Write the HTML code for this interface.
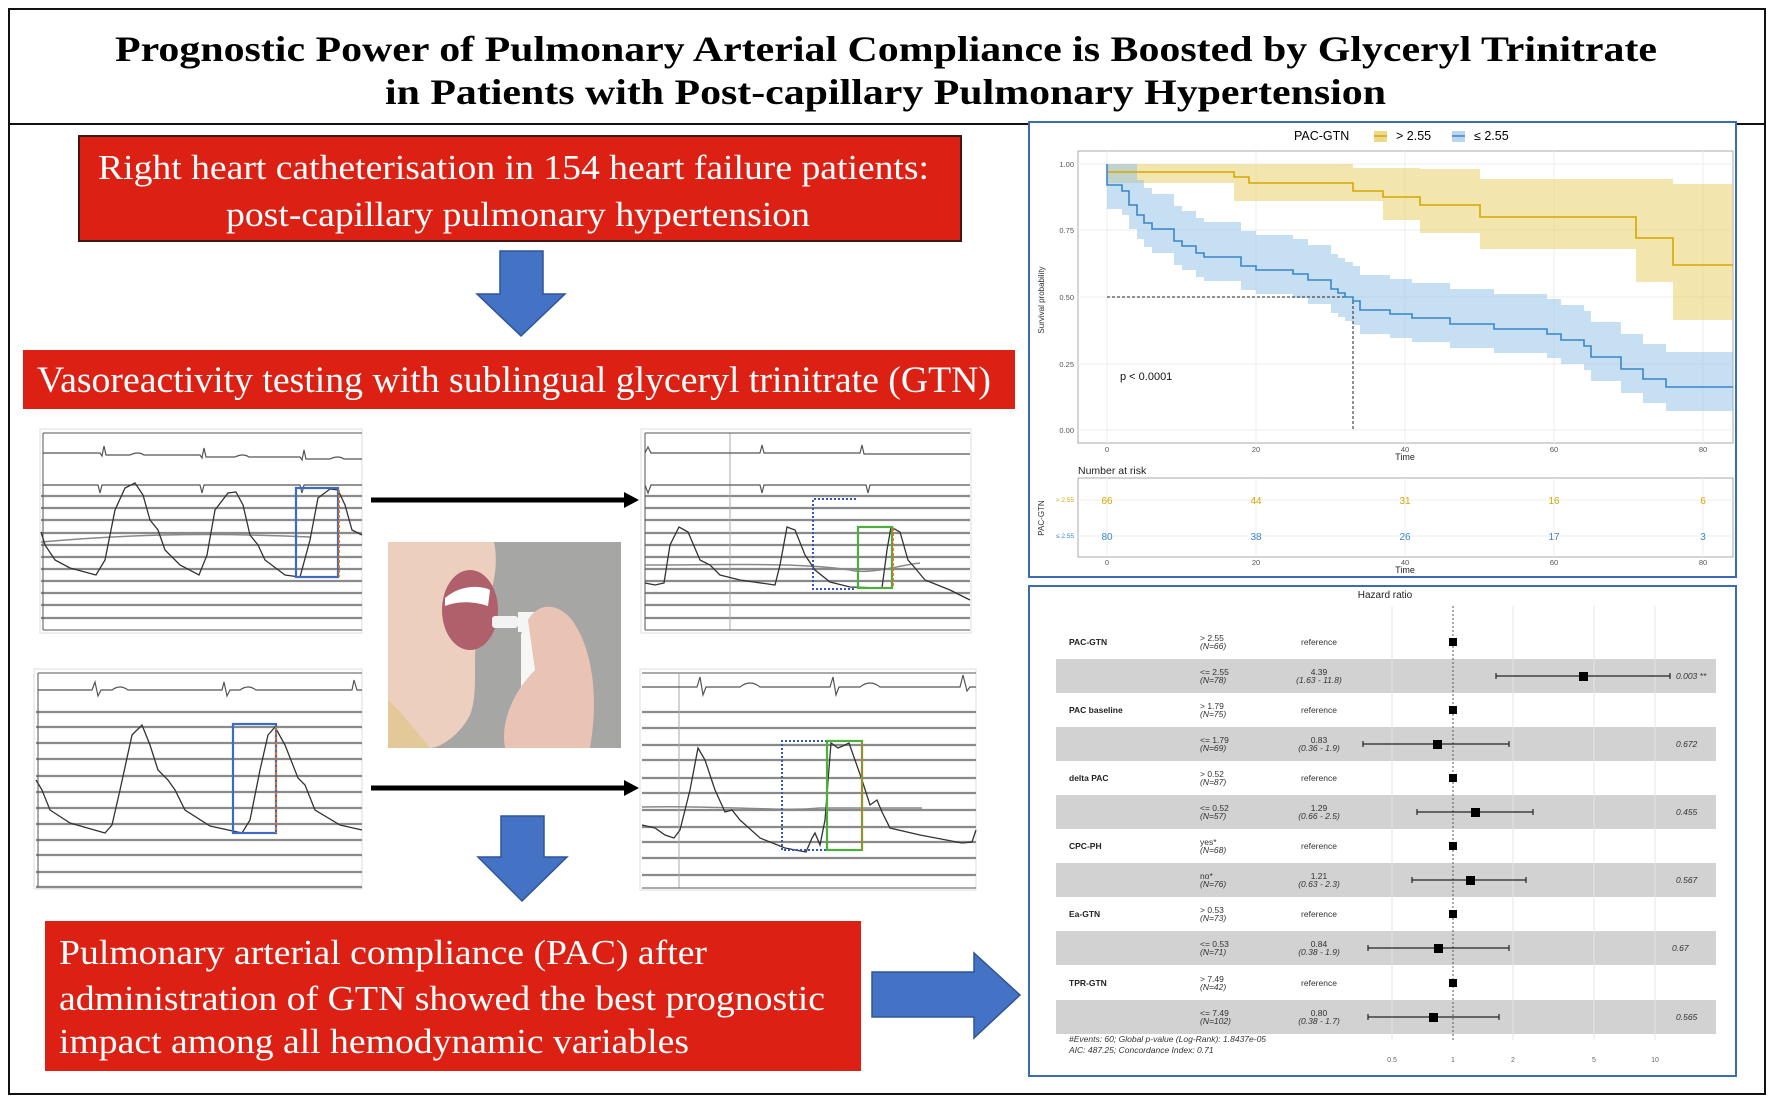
<!DOCTYPE html>
<html><head><meta charset="utf-8"><style>
html,body{margin:0;padding:0;background:#fff;}
svg{display:block;}
.t{font-family:"Liberation Serif",serif;}
.s{font-family:"Liberation Sans",sans-serif;}
</style></head><body>
<svg width="1772" height="1101" viewBox="0 0 1772 1101" xmlns="http://www.w3.org/2000/svg">
<rect x="9" y="9" width="1756" height="1085" fill="#fff" stroke="#111" stroke-width="2"/>
<line x1="9" y1="124" x2="1765" y2="124" stroke="#111" stroke-width="2"/>
<text class="t" x="115" y="61" font-size="36" font-weight="bold" textLength="1542" lengthAdjust="spacingAndGlyphs">Prognostic Power of Pulmonary Arterial Compliance is Boosted by Glyceryl Trinitrate</text>
<text class="t" x="385" y="104" font-size="36" font-weight="bold" textLength="1001" lengthAdjust="spacingAndGlyphs">in Patients with Post-capillary Pulmonary Hypertension</text>

<!-- red boxes -->
<rect x="79" y="136" width="882" height="105" fill="#dc2114" stroke="#3a1a14" stroke-width="2"/>
<text class="t" x="98" y="179" font-size="35" fill="#fff" textLength="831" lengthAdjust="spacingAndGlyphs">Right heart catheterisation in 154 heart failure patients:</text>
<text class="t" x="226" y="226" font-size="35" fill="#fff" textLength="584" lengthAdjust="spacingAndGlyphs">post-capillary pulmonary hypertension</text>
<rect x="23" y="350" width="992" height="59" fill="#dc2114"/>
<text class="t" x="37" y="392" font-size="37" fill="#fff" textLength="954" lengthAdjust="spacingAndGlyphs">Vasoreactivity testing with sublingual glyceryl trinitrate (GTN)</text>
<rect x="45" y="921" width="816" height="150" fill="#dc2114"/>
<text class="t" x="59" y="964" font-size="35" fill="#fff" textLength="648" lengthAdjust="spacingAndGlyphs">Pulmonary arterial compliance (PAC) after</text>
<text class="t" x="59" y="1010" font-size="35" fill="#fff" textLength="766" lengthAdjust="spacingAndGlyphs">administration of GTN showed the best prognostic</text>
<text class="t" x="59" y="1053" font-size="35" fill="#fff" textLength="630" lengthAdjust="spacingAndGlyphs">impact among all hemodynamic variables</text>

<!-- blue arrows -->
<polygon points="500,251 543,251 543,294 565,294 521,336 477,294 500,294" fill="#4472c4" stroke="#2f5597" stroke-width="1.5"/>
<polygon points="501,816 544,816 544,857 567,857 522,901 478,857 501,857" fill="#4472c4" stroke="#2f5597" stroke-width="1.5"/>
<polygon points="872,972 974,972 974,953 1020,995 974,1038 974,1017 872,1017" fill="#4472c4" stroke="#2f5597" stroke-width="1.5"/>

<!-- black arrows -->
<line x1="371" y1="500" x2="626" y2="500" stroke="#000" stroke-width="5"/>
<polygon points="624,492 639,500 624,508" fill="#000"/>
<line x1="371" y1="788" x2="626" y2="788" stroke="#000" stroke-width="5"/>
<polygon points="624,780 639,788 624,796" fill="#000"/>

<!-- TL panel -->
<g>
<rect x="40" y="429" width="322" height="204" fill="#fff" stroke="#ddd"/>
<g stroke="#8a8a8a" stroke-width="2.2">
<line x1="41" y1="496" x2="362" y2="496"/><line x1="41" y1="508" x2="362" y2="508"/><line x1="41" y1="520" x2="362" y2="520"/><line x1="41" y1="533" x2="362" y2="533"/><line x1="41" y1="545" x2="362" y2="545"/><line x1="41" y1="557" x2="362" y2="557"/><line x1="41" y1="569" x2="362" y2="569"/><line x1="41" y1="581" x2="362" y2="581"/><line x1="41" y1="593" x2="362" y2="593"/><line x1="41" y1="605" x2="362" y2="605"/><line x1="41" y1="618" x2="362" y2="618"/>
</g>
<line x1="43" y1="433" x2="43" y2="630" stroke="#555"/>
<line x1="43" y1="433" x2="362" y2="433" stroke="#555"/><line x1="43" y1="630" x2="362" y2="630" stroke="#555"/>
<path d="M43,453 H100 l2,3 l2,-10 l2,9 H130 q8,-4 14,0 H200 l2,3 l2,-10 l2,9 H235 q8,-4 14,0 H300 l2,3 l2,-10 l2,9 H330 q8,-4 14,0 H362" fill="none" stroke="#555" stroke-width="1.2"/>
<path d="M43,485 H98 l2,8 l2,-8 H200 l2,8 l2,-8 H300 l2,8 l2,-8 H362" fill="none" stroke="#555" stroke-width="1.2"/>
<path d="M41,542 C120,535 200,532 310,537" fill="none" stroke="#888" stroke-width="1.5"/>
<path d="M41,532 L45,545 L55,560 L70,568 L96,575 L105,560 L115,510 L125,488 L135,483 L143,495 L150,520 L158,530 L165,550 L180,565 L199,575 L207,555 L215,510 L228,493 L236,492 L243,505 L250,535 L258,545 L265,560 L285,575 L300,577 L310,540 L318,498 L330,489 L338,490 L345,505 L352,530 L362,535" fill="none" stroke="#333" stroke-width="1.3"/>
<rect x="296" y="488" width="42" height="89" fill="none" stroke="#3a6cc4" stroke-width="2.2"/>
<line x1="339" y1="490" x2="339" y2="577" stroke="#e07020" stroke-width="1.8" stroke-dasharray="3,2"/>
</g>

<!-- TR panel -->
<g>
<rect x="641" y="429" width="330" height="204" fill="#fff" stroke="#ddd"/>
<g stroke="#8a8a8a" stroke-width="2.2">
<line x1="645" y1="496" x2="970" y2="496"/><line x1="645" y1="508" x2="970" y2="508"/><line x1="645" y1="520" x2="970" y2="520"/><line x1="645" y1="533" x2="970" y2="533"/><line x1="645" y1="545" x2="970" y2="545"/><line x1="645" y1="557" x2="970" y2="557"/><line x1="645" y1="569" x2="970" y2="569"/><line x1="645" y1="581" x2="970" y2="581"/><line x1="645" y1="593" x2="970" y2="593"/><line x1="645" y1="605" x2="970" y2="605"/><line x1="645" y1="618" x2="970" y2="618"/>
</g>
<line x1="645" y1="433" x2="645" y2="630" stroke="#555"/><line x1="730" y1="433" x2="730" y2="630" stroke="#aaa"/>
<line x1="645" y1="433" x2="970" y2="433" stroke="#555"/><line x1="645" y1="630" x2="970" y2="630" stroke="#555"/>
<path d="M645,453 l3,-6 l3,6 H760 l2,-8 l2,8 H860 l2,-8 l2,9 H970" fill="none" stroke="#555" stroke-width="1.2"/>
<path d="M645,485 l3,8 l3,-8 H760 l2,8 l2,-8 H866 l2,8 l2,-8 H970" fill="none" stroke="#555" stroke-width="1.2"/>
<path d="M645,565 C720,565 800,562 850,570 C870,575 900,565 920,563" fill="none" stroke="#888" stroke-width="1.5"/>
<path d="M645,583 L655,585 L664,583 L670,545 L679,527 L688,532 L700,560 L710,565 L720,575 L740,580 L775,585 L780,565 L787,527 L795,530 L805,555 L815,570 L830,582 L850,587 L882,588 L887,550 L891,527 L900,532 L908,560 L915,568 L925,580 L950,590 L970,600" fill="none" stroke="#333" stroke-width="1.3"/>
<path d="M856,499 H813 V589 H856" fill="none" stroke="#2f58c4" stroke-width="2" stroke-dasharray="2,2"/>
<rect x="858" y="527" width="34" height="61" fill="none" stroke="#4caf3a" stroke-width="2.2"/>
<line x1="893" y1="528" x2="893" y2="588" stroke="#e07020" stroke-width="1.8" stroke-dasharray="3,2"/>
</g>

<!-- BL panel -->
<g>
<rect x="34" y="669" width="328" height="220" fill="#fff" stroke="#ddd"/>
<g stroke="#8a8a8a" stroke-width="2.2">
<line x1="36" y1="712" x2="362" y2="712"/><line x1="36" y1="727" x2="362" y2="727"/><line x1="36" y1="743" x2="362" y2="743"/><line x1="36" y1="759" x2="362" y2="759"/><line x1="36" y1="776" x2="362" y2="776"/><line x1="36" y1="792" x2="362" y2="792"/><line x1="36" y1="808" x2="362" y2="808"/><line x1="36" y1="824" x2="362" y2="824"/><line x1="36" y1="840" x2="362" y2="840"/><line x1="36" y1="855" x2="362" y2="855"/><line x1="36" y1="872" x2="362" y2="872"/><line x1="36" y1="887" x2="362" y2="887"/>
</g>
<line x1="38" y1="673" x2="38" y2="887" stroke="#555"/><line x1="38" y1="673" x2="362" y2="673" stroke="#555"/>
<path d="M38,690 H92 l3,-8 l3,14 l3,-6 H112 q8,-6 16,0 H222 l2,-8 l3,14 l3,-6 H240 q8,-6 16,0 H352 l2,-10 l3,10 H362" fill="none" stroke="#555" stroke-width="1.2"/>
<path d="M36,780 L42,790 L50,810 L70,823 L105,833 L112,825 L120,790 L132,735 L142,725 L150,745 L158,770 L168,780 L175,790 L185,810 L210,826 L242,833 L250,820 L260,770 L268,735 L275,727 L285,745 L298,778 L305,785 L315,810 L340,825 L362,830" fill="none" stroke="#333" stroke-width="1.3"/>
<rect x="233" y="724" width="43" height="109" fill="none" stroke="#3a6cc4" stroke-width="2.2"/>
<line x1="276" y1="727" x2="276" y2="833" stroke="#e07020" stroke-width="1.8" stroke-dasharray="3,2"/>
</g>

<!-- BR panel -->
<g>
<rect x="640" y="669" width="336" height="221" fill="#fff" stroke="#ddd"/>
<g stroke="#8a8a8a" stroke-width="2.2">
<line x1="642" y1="712" x2="976" y2="712"/><line x1="642" y1="728" x2="976" y2="728"/><line x1="642" y1="745" x2="976" y2="745"/><line x1="642" y1="760" x2="976" y2="760"/><line x1="642" y1="778" x2="976" y2="778"/><line x1="642" y1="793" x2="976" y2="793"/><line x1="642" y1="810" x2="976" y2="810"/><line x1="642" y1="827" x2="976" y2="827"/><line x1="642" y1="842" x2="976" y2="842"/><line x1="642" y1="858" x2="976" y2="858"/><line x1="642" y1="875" x2="976" y2="875"/>
</g>
<line x1="642" y1="673" x2="976" y2="673" stroke="#555"/><line x1="679" y1="673" x2="679" y2="888" stroke="#aaa"/><line x1="642" y1="888" x2="976" y2="888" stroke="#555"/>
<path d="M642,687 H697 l3,-10 l3,18 l3,-8 H740 q10,-8 20,0 H830 l3,-10 l3,18 l3,-8 H860 q10,-8 20,0 H960 l3,-12 l4,16 l3,-4 H976" fill="none" stroke="#555" stroke-width="1.2"/>
<path d="M642,807 C720,805 780,812 820,808 L922,808" fill="none" stroke="#888" stroke-width="1.5"/>
<path d="M642,825 L655,828 L665,835 L674,838 L680,830 L690,790 L698,748 L705,760 L715,790 L725,812 L732,810 L740,820 L760,838 L785,848 L806,852 L812,838 L815,833 L820,845 L825,820 L831,743 L838,748 L845,745 L849,743 L855,760 L862,780 L870,805 L877,800 L882,812 L890,828 L920,835 L962,843 L972,842 L976,830" fill="none" stroke="#333" stroke-width="1.3"/>
<path d="M827,741 H782 V850 H827" fill="none" stroke="#2f58c4" stroke-width="2" stroke-dasharray="2,2"/>
<rect x="827" y="741" width="35" height="109" fill="none" stroke="#4caf3a" stroke-width="2.2"/>
<line x1="862" y1="743" x2="862" y2="850" stroke="#e07020" stroke-width="1.8" stroke-dasharray="3,2"/>
</g>

<!-- Photo -->
<g>
<rect x="388" y="542" width="233" height="206" fill="#a6a6a4"/>
<path d="M388,542 H494 C500,570 490,600 480,620 C470,650 480,690 470,715 C460,735 440,748 430,748 H388 Z" fill="#edcfc0"/>
<path d="M388,700 C400,710 415,730 430,748 H388 Z" fill="#e3c89a"/>
<ellipse cx="470" cy="610" rx="28" ry="40" fill="#b0606a"/>
<path d="M445,598 C460,585 480,585 490,590 L488,606 C470,600 455,602 445,606 Z" fill="#fff"/>
<rect x="492" y="616" width="26" height="12" rx="3" fill="#f3f3f3"/>
<rect x="518" y="612" width="22" height="20" fill="#f5f5f5"/>
<rect x="521" y="630" width="30" height="75" rx="5" fill="#f7f7f7"/>
<path d="M528,620 C540,600 560,605 572,620 C590,645 600,690 590,748 H505 C500,720 515,690 535,670 Z" fill="#e9c3b3"/>
</g>

<!-- KM box -->
<rect x="1029" y="122" width="707" height="455" fill="#fff" stroke="#3a6cb4" stroke-width="2"/>
<g class="s">
<text x="1294" y="140" font-size="12.5" font-family="Liberation Sans,sans-serif">PAC-GTN</text>
<rect x="1374" y="131" width="13" height="11" fill="#ecd98a"/><line x1="1374" y1="136" x2="1387" y2="136" stroke="#d4a800" stroke-width="1.5"/>
<text x="1396" y="140" font-size="12.5" font-family="Liberation Sans,sans-serif">&gt; 2.55</text>
<rect x="1452" y="131" width="13" height="11" fill="#b9d6ee"/><line x1="1452" y1="136" x2="1465" y2="136" stroke="#3a86c8" stroke-width="1.5"/>
<text x="1474" y="140" font-size="12.5" font-family="Liberation Sans,sans-serif">≤ 2.55</text>
</g>
<rect x="1078" y="151" width="655" height="292" fill="#fff" stroke="#aaa"/>
<g stroke="#eee" stroke-width="1">
<line x1="1107" y1="151" x2="1107" y2="443"/><line x1="1256" y1="151" x2="1256" y2="443"/><line x1="1405" y1="151" x2="1405" y2="443"/><line x1="1554" y1="151" x2="1554" y2="443"/><line x1="1703" y1="151" x2="1703" y2="443"/>
<line x1="1078" y1="164" x2="1733" y2="164"/><line x1="1078" y1="230" x2="1733" y2="230"/><line x1="1078" y1="297" x2="1733" y2="297"/><line x1="1078" y1="364" x2="1733" y2="364"/><line x1="1078" y1="430" x2="1733" y2="430"/>
</g>
<path d="M1107,164 H1353 V168 H1420 V169 H1480 V179 H1673 V184 H1733 V320 H1673 V282 H1636 V249 H1480 V233 H1420 V220 H1383 V201 H1234 V183 H1107 Z" fill="#e8d06a" fill-opacity="0.55"/>
<path d="M1107,164 H1137 V180 H1144 V188 H1152 V194 H1174 V206 H1182 V211 H1196 V218 H1204 V222 H1241 V231 H1256 V235 H1293 V239 H1308 V245 H1331 V254 H1338 V258 H1345 V262 H1353 V266 H1360 V275 H1390 V279 H1412 V283 H1450 V289 H1494 V294 H1547 V299 H1561 V305 H1584 V311 H1591 V322 H1621 V334 H1643 V344 H1666 V352 H1733 V411 H1666 V403 H1643 V393 H1621 V381 H1591 V370 H1584 V364 H1561 V358 H1547 V353 H1494 V348 H1450 V342 H1412 V338 H1390 V334 H1360 V325 H1353 V321 H1345 V317 H1338 V313 H1331 V304 H1308 V298 H1293 V294 H1256 V290 H1241 V281 H1204 V277 H1196 V270 H1182 V265 H1174 V253 H1152 V247 H1144 V239 H1137 V229 H1129 V215 H1122 V209 H1107 Z" fill="#8fc0e8" fill-opacity="0.5"/>
<path d="M1107,297 H1353 V430" fill="none" stroke="#222" stroke-width="1" stroke-dasharray="3,2"/>
<path d="M1107,172 H1234 V177 H1249 V183 H1353 V191 H1383 V197 H1420 V205 H1480 V217 H1636 V238 H1673 V265 H1733" fill="none" stroke="#d4a800" stroke-width="1.6"/>
<path d="M1107,164 V185 H1122 V191 H1129 V205 H1137 V215 H1144 V223 H1152 V229 H1174 V241 H1182 V246 H1196 V253 H1204 V257 H1241 V266 H1256 V270 H1293 V274 H1308 V280 H1331 V289 H1338 V293 H1345 V297 H1353 V301 H1360 V310 H1390 V314 H1412 V318 H1450 V324 H1494 V329 H1547 V334 H1561 V340 H1584 V346 H1591 V357 H1621 V369 H1643 V379 H1666 V387 H1733" fill="none" stroke="#3a86c8" stroke-width="1.6"/>
<g font-family="Liberation Sans,sans-serif" font-size="7.5" fill="#555" text-anchor="end">
<text x="1074" y="167">1.00</text><text x="1074" y="233">0.75</text><text x="1074" y="300">0.50</text><text x="1074" y="367">0.25</text><text x="1074" y="433">0.00</text>
</g>
<g font-family="Liberation Sans,sans-serif" font-size="7.5" fill="#555" text-anchor="middle">
<text x="1107" y="452">0</text><text x="1256" y="452">20</text><text x="1405" y="452">40</text><text x="1554" y="452">60</text><text x="1703" y="452">80</text>
<text x="1405" y="460" font-size="9" fill="#222">Time</text>
</g>
<text x="1044" y="300" font-family="Liberation Sans,sans-serif" font-size="8" fill="#333" text-anchor="middle" transform="rotate(-90 1044 300)">Survival probability</text>
<text x="1120" y="380" font-family="Liberation Sans,sans-serif" font-size="11" fill="#111">p &lt; 0.0001</text>
<text x="1078" y="474" font-family="Liberation Sans,sans-serif" font-size="10.5" fill="#222">Number at risk</text>
<rect x="1078" y="478" width="655" height="79" fill="#fff" stroke="#aaa"/>
<g stroke="#eee"><line x1="1107" y1="478" x2="1107" y2="557"/><line x1="1256" y1="478" x2="1256" y2="557"/><line x1="1405" y1="478" x2="1405" y2="557"/><line x1="1554" y1="478" x2="1554" y2="557"/><line x1="1703" y1="478" x2="1703" y2="557"/><line x1="1078" y1="500" x2="1733" y2="500"/><line x1="1078" y1="536" x2="1733" y2="536"/></g>
<g font-family="Liberation Sans,sans-serif" font-size="10" text-anchor="middle" fill="#d4a800">
<text x="1107" y="504">66</text><text x="1256" y="504">44</text><text x="1405" y="504">31</text><text x="1554" y="504">16</text><text x="1703" y="504">6</text>
</g>
<g font-family="Liberation Sans,sans-serif" font-size="10" text-anchor="middle" fill="#3a86c8">
<text x="1107" y="540">80</text><text x="1256" y="540">38</text><text x="1405" y="540">26</text><text x="1554" y="540">17</text><text x="1703" y="540">3</text>
</g>
<text x="1074" y="502" font-family="Liberation Sans,sans-serif" font-size="6.5" fill="#d4a800" text-anchor="end">&gt; 2.55</text>
<text x="1074" y="538" font-family="Liberation Sans,sans-serif" font-size="6.5" fill="#3a86c8" text-anchor="end">≤ 2.55</text>
<text x="1044" y="518" font-family="Liberation Sans,sans-serif" font-size="8" fill="#333" text-anchor="middle" transform="rotate(-90 1044 518)">PAC-GTN</text>
<g font-family="Liberation Sans,sans-serif" font-size="7.5" fill="#555" text-anchor="middle">
<text x="1107" y="565">0</text><text x="1256" y="565">20</text><text x="1405" y="565">40</text><text x="1554" y="565">60</text><text x="1703" y="565">80</text>
<text x="1405" y="573" font-size="9" fill="#222">Time</text>
</g>

<!-- HR box -->
<rect x="1029" y="586" width="707" height="490" fill="#fff" stroke="#3a6cb4" stroke-width="2"/>
<text x="1385" y="598" font-family="Liberation Sans,sans-serif" font-size="10" fill="#222" text-anchor="middle">Hazard ratio</text>
<g fill="#d2d2d2">
<rect x="1056" y="659" width="660" height="34"/><rect x="1056" y="727" width="660" height="34"/><rect x="1056" y="795" width="660" height="34"/><rect x="1056" y="863" width="660" height="34"/><rect x="1056" y="931" width="660" height="34"/><rect x="1056" y="1000" width="660" height="34"/>
</g>
<g stroke="#e4e4e4"><line x1="1392" y1="606" x2="1392" y2="1040"/><line x1="1513" y1="606" x2="1513" y2="1040"/><line x1="1594" y1="606" x2="1594" y2="1040"/><line x1="1655" y1="606" x2="1655" y2="1040"/></g>
<line x1="1453" y1="606" x2="1453" y2="1040" stroke="#555" stroke-dasharray="2,2"/>
<g font-family="Liberation Sans,sans-serif" font-size="8.5" font-weight="bold" fill="#222">
<text x="1069" y="645">PAC-GTN</text><text x="1069" y="713">PAC baseline</text><text x="1069" y="781">delta PAC</text><text x="1069" y="849">CPC-PH</text><text x="1069" y="917">Ea-GTN</text><text x="1069" y="986">TPR-GTN</text>
</g>
<g font-family="Liberation Sans,sans-serif" font-size="8.5" fill="#333">
<text x="1200" y="641">&gt; 2.55</text><text x="1200" y="649" font-style="italic">(N=66)</text>
<text x="1200" y="675">&lt;= 2.55</text><text x="1200" y="683" font-style="italic">(N=78)</text>
<text x="1200" y="709">&gt; 1.79</text><text x="1200" y="717" font-style="italic">(N=75)</text>
<text x="1200" y="743">&lt;= 1.79</text><text x="1200" y="751" font-style="italic">(N=69)</text>
<text x="1200" y="777">&gt; 0.52</text><text x="1200" y="785" font-style="italic">(N=87)</text>
<text x="1200" y="811">&lt;= 0.52</text><text x="1200" y="819" font-style="italic">(N=57)</text>
<text x="1200" y="845">yes*</text><text x="1200" y="853" font-style="italic">(N=68)</text>
<text x="1200" y="879">no*</text><text x="1200" y="887" font-style="italic">(N=76)</text>
<text x="1200" y="913">&gt; 0.53</text><text x="1200" y="921" font-style="italic">(N=73)</text>
<text x="1200" y="947">&lt;= 0.53</text><text x="1200" y="955" font-style="italic">(N=71)</text>
<text x="1200" y="982">&gt; 7.49</text><text x="1200" y="990" font-style="italic">(N=42)</text>
<text x="1200" y="1016">&lt;= 7.49</text><text x="1200" y="1024" font-style="italic">(N=102)</text>
</g>
<g font-family="Liberation Sans,sans-serif" font-size="8.5" fill="#333" text-anchor="middle">
<text x="1319" y="645">reference</text><text x="1319" y="713">reference</text><text x="1319" y="781">reference</text><text x="1319" y="849">reference</text><text x="1319" y="917">reference</text><text x="1319" y="986">reference</text>
<text x="1319" y="675">4.39</text><text x="1319" y="683" font-style="italic">(1.63 - 11.8)</text>
<text x="1319" y="743">0.83</text><text x="1319" y="751" font-style="italic">(0.36 -  1.9)</text>
<text x="1319" y="811">1.29</text><text x="1319" y="819" font-style="italic">(0.66 -  2.5)</text>
<text x="1319" y="879">1.21</text><text x="1319" y="887" font-style="italic">(0.63 -  2.3)</text>
<text x="1319" y="947">0.84</text><text x="1319" y="955" font-style="italic">(0.38 -  1.9)</text>
<text x="1319" y="1016">0.80</text><text x="1319" y="1024" font-style="italic">(0.38 -  1.7)</text>
</g>
<g font-family="Liberation Sans,sans-serif" font-size="8.5" fill="#333" font-style="italic">
<text x="1676" y="679">0.003 **</text><text x="1676" y="747">0.672</text><text x="1676" y="815">0.455</text><text x="1676" y="883">0.567</text><text x="1672" y="951">0.67</text><text x="1676" y="1020">0.565</text>
</g>
<g stroke="#222" stroke-width="1.2">
<line x1="1496" y1="676" x2="1670" y2="676"/><line x1="1496" y1="673" x2="1496" y2="679"/><line x1="1670" y1="673" x2="1670" y2="679"/>
<line x1="1363" y1="744" x2="1509" y2="744"/><line x1="1363" y1="741" x2="1363" y2="747"/><line x1="1509" y1="741" x2="1509" y2="747"/>
<line x1="1417" y1="812" x2="1533" y2="812"/><line x1="1417" y1="809" x2="1417" y2="815"/><line x1="1533" y1="809" x2="1533" y2="815"/>
<line x1="1412" y1="880" x2="1526" y2="880"/><line x1="1412" y1="877" x2="1412" y2="883"/><line x1="1526" y1="877" x2="1526" y2="883"/>
<line x1="1368" y1="948" x2="1509" y2="948"/><line x1="1368" y1="945" x2="1368" y2="951"/><line x1="1509" y1="945" x2="1509" y2="951"/>
<line x1="1368" y1="1017" x2="1499" y2="1017"/><line x1="1368" y1="1014" x2="1368" y2="1020"/><line x1="1499" y1="1014" x2="1499" y2="1020"/>
</g>
<g fill="#000">
<rect x="1449" y="638" width="8" height="8"/><rect x="1449" y="706" width="8" height="8"/><rect x="1449" y="774" width="8" height="8"/><rect x="1449" y="842" width="8" height="8"/><rect x="1449" y="910" width="8" height="8"/><rect x="1449" y="979" width="8" height="8"/>
<rect x="1579" y="672" width="9" height="9"/><rect x="1433" y="740" width="9" height="9"/><rect x="1471" y="808" width="9" height="9"/><rect x="1466" y="876" width="9" height="9"/><rect x="1434" y="944" width="9" height="9"/><rect x="1429" y="1013" width="9" height="9"/>
</g>
<g font-family="Liberation Sans,sans-serif" font-size="8.5" fill="#333" font-style="italic">
<text x="1069" y="1042">#Events: 60; Global p-value (Log-Rank): 1.8437e-05</text>
<text x="1069" y="1053">AIC: 487.25; Concordance Index: 0.71</text>
</g>
<g font-family="Liberation Sans,sans-serif" font-size="7" fill="#666" text-anchor="middle">
<text x="1392" y="1062">0.5</text><text x="1453" y="1062">1</text><text x="1513" y="1062">2</text><text x="1594" y="1062">5</text><text x="1655" y="1062">10</text>
</g>
</svg>
</body></html>
